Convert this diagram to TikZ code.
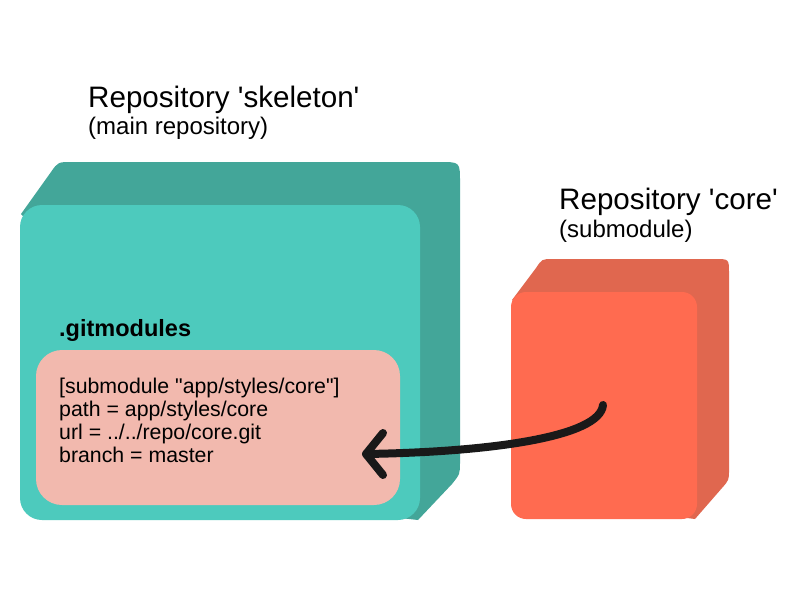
\documentclass[tikz,border=0pt]{standalone}
\usepackage{fontspec}
\setmainfont{Liberation Sans}
\begin{document}
\begin{tikzpicture}[x=1pt,y=-1pt,
  title/.style={anchor=base west,inner sep=0pt,font=\fontsize{29.6}{34}\selectfont},
  subtitle/.style={anchor=base west,inner sep=0pt,font=\fontsize{24}{28}\selectfont},
  label/.style={anchor=base west,inner sep=0pt,font=\fontsize{23.5}{28}\selectfont\bfseries},
  code/.style={anchor=base west,inner sep=0pt,align=left,font=\fontsize{21.3}{23}\selectfont},
  link/.style={line width=8pt,line cap=round,line join=round,black!90}]
\definecolor{tealfront}{HTML}{4DCABD}
\definecolor{tealback}{HTML}{43A699}
\definecolor{pinkbox}{HTML}{F2B9AE}
\definecolor{orangefront}{HTML}{FF6B50}
\definecolor{orangeback}{HTML}{E0674F}
\useasboundingbox[fill=white] (0,0) rectangle (800,600);

% skeleton repository
\fill[tealback] (60,480) -- (40,235) -- (21,214) -- (51,172) .. controls (58,162) .. (72,162)
  -- (440,162) .. controls (460,162) .. (460,182) -- (460,462)
  .. controls (460,474) .. (452,484) -- (418,520) -- cycle;
\fill[tealfront,rounded corners=22pt] (20,205) rectangle (420,520);
\fill[pinkbox,rounded corners=26pt] (36,350) rectangle (400,505);

% core repository
\fill[orangeback] (540,500) -- (525,310) -- (512,300) -- (536,268) .. controls (542,259) .. (553,259)
  -- (715,259) .. controls (729,259) .. (729,273) -- (729,470)
  .. controls (729,480) .. (722,488) -- (695,519) -- cycle;
\fill[orangefront,rounded corners=15pt] (511,292) rectangle (697,519);

\node[title] (t1) at (88,107) {Repository \textquotesingle skeleton\textquotesingle};
\node[subtitle] (s1) at (88,134) {(main repository)};
\node[title] (t2) at (559,209) {Repository \textquotesingle core\textquotesingle};
\node[subtitle] (s2) at (559,237) {(submodule)};
\node[label] (gm) at (59,336) {.gitmodules};
\node[code] (c1) at (59,393) {[submodule \textquotedbl app/styles/core\textquotedbl]};
\node[code] (c2) at (59,416) {path = app/styles/core};
\node[code] (c3) at (59,439) {url = ../../repo/core.git};
\node[code] (c4) at (59,462) {branch = master};

\coordinate (src) at (603,405);
\coordinate (dst) at (366,454);
\draw[link] (src) .. controls (600,437) and (490,452) .. (dst);
\draw[link] (dst) ++(17,-21) -- (dst) -- ++(17,21);
\end{tikzpicture}
\end{document}
